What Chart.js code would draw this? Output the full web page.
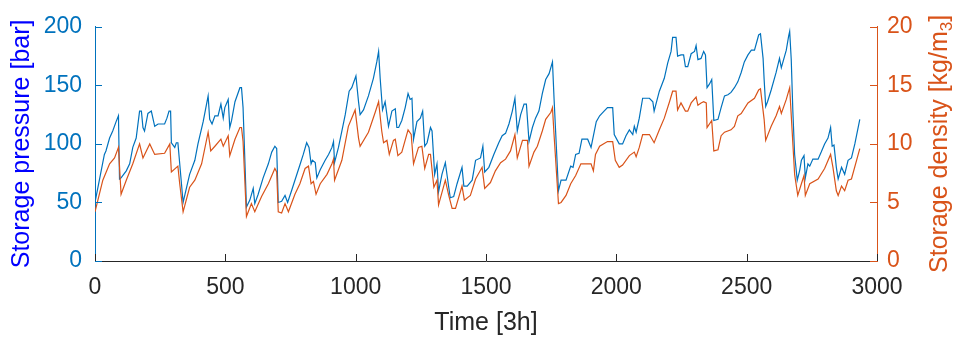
<!DOCTYPE html>
<html>
<head>
<meta charset="utf-8">
<script src="https://cdn.jsdelivr.net/npm/chart.js@4"></script>
<style>
  html,body{margin:0;padding:0;background:#fff;}
  #wrap{width:964px;height:339px;position:relative;}
</style>
</head>
<body>
<div id="wrap"><canvas id="c" width="964" height="339"></canvas></div>
<script>
// ---- data ----
const pressureTime = [0,36,42,56,68,81,90,94,100,120,133,145,158,171,178,184,190,203,216,229,242,267,276,284,290,293,306,312,318,338,363,383,395,415,434,440,449,460,472,483,492,498,511,517,524,537,556,562,568,581,594,607,613,626,645,665,678,690,697,703,716,729,739,754,767,786,799,812,821,829,834,845,851,864,883,896,909,915,919,934,947,960,975,985,1001,1011,1017,1030,1049,1068,1081,1088,1094,1103,1113,1126,1139,1152,1158,1165,1177,1190,1201,1209,1216,1222,1235,1248,1257,1265,1274,1287,1293,1303,1312,1318,1331,1344,1357,1363,1376,1389,1408,1415,1428,1447,1460,1479,1488,1495,1511,1530,1549,1562,1575,1588,1601,1611,1620,1633,1646,1655,1665,1678,1690,1703,1716,1729,1742,1755,1761,1778,1788,1807,1825,1834,1844,1857,1868,1877,1890,1903,1923,1936,1953,1966,1986,1992,2011,2024,2037,2050,2063,2069,2076,2088,2101,2127,2140,2145,2152,2165,2184,2197,2210,2216,2229,2235,2248,2258,2265,2274,2287,2300,2306,2313,
  2325,2335,2342,2348,2357,2366,2374,2390,2402,2415,2428,2440,2453,2466,2479,2491,2505,2518,2530,2546,2553,2563,2567,2573,2580,2594,2613,2626,2633,2652,2661,2665,2671,2677,2684,2694,
  2703,2710,2720,2725,2735,2742,2754,2774,2786,2799,2812,2822,2828,2835,2844,2851,2864,2876,2889,2902,2915,2934];
const pressure = [50,91,94,105,111,119,124,70,71,77,83,97,105,128,128,114,111,126,128,115,117,117,122,128,128,101,97,101,101,50,74,86,100,119,141,121,117,124,124,134,122,131,138,114,120,136,148,148,131,46,52,62,49,57,71,83,93,98,96,50,51,56,50,60,69,82,91,101,97,83,86,84,71,78,86,91,97,102,84,97,111,125,145,148,158,136,125,129,141,156,170,179,156,129,136,115,128,130,114,114,120,131,143,138,139,104,119,122,128,98,101,114,111,74,83,59,74,84,63,54,55,66,80,64,64,69,86,88,98,76,80,91,101,107,109,117,128,139,111,125,134,134,102,114,122,128,143,155,160,170,139,60,69,69,81,80,91,92,104,104,104,97,119,124,128,131,131,108,100,100,107,112,108,115,110,122,139,139,136,128,134,145,156,169,179,191,191,175,176,176,166,166,177,179,184,172,
  173,179,176,148,151,155,120,121,131,141,142,144,148,153,161,170,176,180,180,193,194,173,155,132,136,146,161,173,165,180,192,196,172,129,91,69,
  77,86,90,71,83,81,87,87,93,100,105,114,98,99,80,70,80,74,86,88,100,121];

const densityTime = [0,30,56,75,90,100,120,145,171,184,210,229,267,287,293,318,325,338,363,383,409,434,444,460,483,492,511,517,537,556,562,568,581,600,613,639,665,690,697,703,716,729,742,767,786,806,819,829,838,848,864,890,909,915,919,947,972,998,1011,1017,1049,1075,1088,1100,1107,1120,1129,1145,1152,1162,1177,1201,1213,1222,1241,1254,1265,1280,1287,1300,1312,1318,1344,1357,1370,1383,1408,1417,1440,1460,1485,1495,1517,1536,1556,1575,1594,1611,1620,1640,1659,1665,1684,1697,1716,1729,1749,1755,1761,1778,1788,1807,1825,1844,1864,1877,1903,1912,1920,1936,1966,1986,1996,2011,2024,2050,2069,2076,2088,2101,2127,2145,2165,2184,2204,2216,2229,2235,2248,2265,2274,2287,2306,2313,
  2325,2335,2345,2348,2366,2374,2390,2402,2415,2440,2453,2466,2479,2505,2530,2546,2553,2567,2573,2594,2613,2626,2633,2652,2665,2677,2684,2696,
  2710,2720,2725,2742,2774,2799,2822,2831,2844,2851,2864,2876,2889,2902,2934];
const density = [4.2,6.9,8.3,8.8,9.7,5.7,6.9,8.3,10.0,8.8,10.0,9.1,9.2,10.0,7.6,8.1,6.6,4.2,6.3,6.9,8.3,11.0,9.4,9.8,10.4,9.8,10.7,9.0,10.4,11.4,11.4,10.2,3.8,4.9,4.2,5.5,6.6,7.9,7.6,4.2,4.1,4.9,4.2,5.7,6.6,7.9,8.1,6.6,6.8,5.7,6.6,7.4,8.3,8.7,6.9,8.6,11.5,12.9,10.5,9.8,11.0,12.7,13.6,11.1,10.1,10.3,9.1,10.3,10.4,9.0,9.3,11.2,10.8,8.3,9.7,9.8,7.9,9.1,9.1,6.3,6.9,4.8,6.9,5.6,4.5,4.5,6.4,5.2,5.6,7.0,8.0,6.2,6.7,7.7,8.4,8.7,9.4,10.8,8.8,10.3,10.3,8.1,9.3,9.8,11.1,12.1,12.7,13.1,10.8,4.9,5.0,5.6,6.6,7.3,8.3,8.3,8.3,7.7,9.1,9.8,10.2,10.2,8.6,8.0,8.2,9.0,9.3,8.9,9.7,10.8,10.8,10.1,11.2,12.2,13.6,14.5,14.5,12.9,13.5,12.8,12.8,13.5,14.0,13.3,
  13.5,13.6,13.5,11.4,12.0,9.4,9.5,10.7,11.0,11.2,11.5,12.4,12.6,13.5,13.9,14.6,14.7,12.1,10.3,11.5,12.4,13.2,12.6,13.8,14.8,10.1,7.4,5.6,
  6.6,7.3,5.6,6.6,7.0,7.9,9.1,8.0,6.0,5.6,6.4,6.0,6.9,7.0,9.6];

const xTicks = [0,500,1000,1500,2000,2500,3000];
const pressureTicks = [0,50,100,150,200];
const densityTicks = [0,5,10,15,20];

// ---- styling ----
const BLUE = '#0072BD', ORANGE = '#D95319', DARK = '#262626';
const FONT = '"Liberation Sans", Arial, Helvetica, sans-serif';

const pData = pressureTime.map((t,i)=>({x:t,y:pressure[i]}));
const dData = densityTime.map((t,i)=>({x:t,y:density[i]}));

const inwardTicks = {
  id:'inwardTicks',
  afterDatasetsDraw(chart){
    const ctx = chart.ctx, a = chart.chartArea, L = 7;
    ctx.save();
    ctx.lineWidth = 1;
    const xs = chart.scales.x;
    ctx.strokeStyle = DARK;
    xTicks.forEach(v=>{
      const px = Math.round(xs.getPixelForValue(v))+0.5;
      ctx.beginPath(); ctx.moveTo(px,a.bottom); ctx.lineTo(px,a.bottom-L); ctx.stroke();
    });
    const yl = chart.scales.yP;
    ctx.strokeStyle = BLUE;
    pressureTicks.forEach(v=>{
      const py = Math.round(yl.getPixelForValue(v))+0.5;
      ctx.beginPath(); ctx.moveTo(a.left,py); ctx.lineTo(a.left+L,py); ctx.stroke();
    });
    const yr = chart.scales.yD;
    ctx.strokeStyle = ORANGE;
    densityTicks.forEach(v=>{
      const py = Math.round(yr.getPixelForValue(v))+0.5;
      ctx.beginPath(); ctx.moveTo(a.right,py); ctx.lineTo(a.right-L,py); ctx.stroke();
    });
    ctx.restore();
  }
};

// right axis title with a real subscript, reading bottom-to-top like the left one
const rightTitle = {
  id:'rightTitle',
  afterDraw(chart){
    const ctx = chart.ctx, a = chart.chartArea;
    const main = 'Storage density [kg/m', sub = '3', end = ']';
    const big = '25px ' + FONT, small = '17px ' + FONT;
    ctx.save();
    ctx.font = big; const w1 = ctx.measureText(main).width, w3 = ctx.measureText(end).width;
    ctx.font = small; const w2 = ctx.measureText(sub).width;
    const total = w1 + w2 + w3;
    ctx.translate(940, (a.top + a.bottom)/2);
    ctx.rotate(-Math.PI/2);
    ctx.fillStyle = ORANGE;
    ctx.textBaseline = 'middle';
    ctx.textAlign = 'left';
    let x = -total/2;
    ctx.font = big; ctx.fillText(main, x, 0); x += w1;
    ctx.font = small; ctx.fillText(sub, x, 7); x += w2;
    ctx.font = big; ctx.fillText(end, x, 0);
    ctx.restore();
  }
};

new Chart(document.getElementById('c'), {
  type:'line',
  data:{
    datasets:[
      {label:'Storage pressure', data:pData, yAxisID:'yP', borderColor:BLUE, borderWidth:1.2,
       pointRadius:0, tension:0, fill:false, order:2},
      {label:'Storage density', data:dData, yAxisID:'yD', borderColor:ORANGE, borderWidth:1.2,
       pointRadius:0, tension:0, fill:false, order:1}
    ]
  },
  options:{
    responsive:false,
    animation:false,
    devicePixelRatio:1,
    layout:{padding:{top:25,left:0,right:0,bottom:0}},
    plugins:{legend:{display:false}, tooltip:{enabled:false}},
    scales:{
      x:{
        type:'linear', min:0, max:3000,
        afterBuildTicks(s){ s.ticks = xTicks.map(v=>({value:v})); },
        afterFit(s){ s.height = 78; },
        grid:{display:false, drawTicks:false},
        border:{display:true, color:DARK, width:1},
        ticks:{color:DARK, padding:13, maxRotation:0, autoSkip:false,
               callback:(v)=>String(v),
               font:{family:FONT, size:23}},
        title:{display:true, text:'Time [3h]', color:DARK, padding:{top:0,bottom:1},
               font:{family:FONT, size:25}}
      },
      yP:{
        type:'linear', position:'left', min:0, max:200,
        afterBuildTicks(s){ s.ticks = pressureTicks.map(v=>({value:v})); },
        afterFit(s){ s.width = 95; },
        grid:{display:false, drawTicks:false},
        border:{display:true, color:BLUE, width:1},
        ticks:{color:BLUE, padding:13, callback:(v)=>String(v), font:{family:FONT, size:23}},
        title:{display:true, text:'Storage pressure [bar]', color:'#0000FF', padding:{top:7,bottom:0},
               font:{family:FONT, size:25}}
      },
      yD:{
        type:'linear', position:'right', min:0, max:20,
        afterBuildTicks(s){ s.ticks = densityTicks.map(v=>({value:v})); },
        afterFit(s){ s.width = 87; },
        grid:{display:false, drawTicks:false},
        border:{display:true, color:ORANGE, width:1},
        ticks:{color:ORANGE, padding:10, callback:(v)=>String(v), font:{family:FONT, size:23}},
        title:{display:false}
      }
    }
  },
  plugins:[inwardTicks, rightTitle]
});
</script>
</body>
</html>
